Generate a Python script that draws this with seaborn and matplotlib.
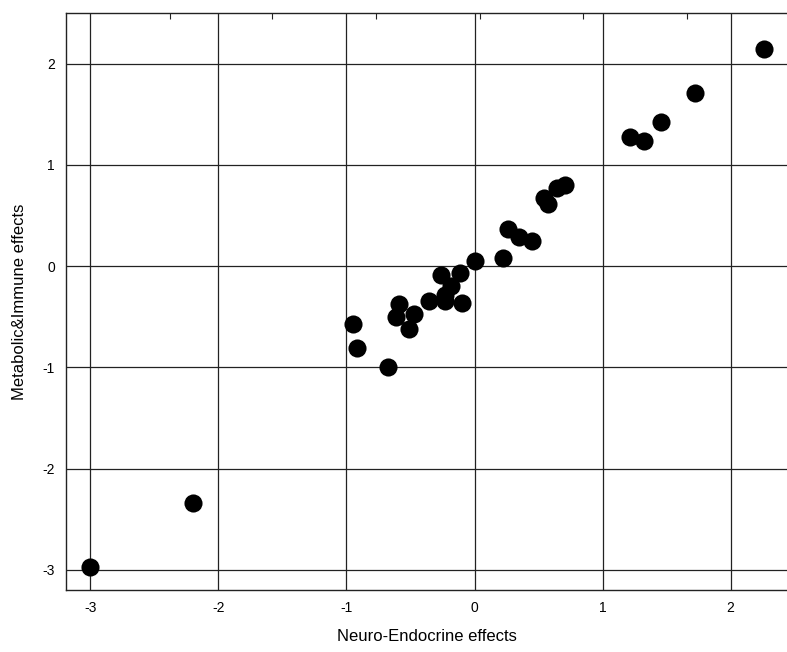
import matplotlib
matplotlib.use("Agg")
import matplotlib.pyplot as plt
import seaborn as sns
import pandas as pd

# -------------------------------------------------
# Data
# -------------------------------------------------
neuro = [-3.00, -2.195, -0.95, -0.919, -0.672, -0.586, -0.61, -0.47, -0.51,
         -0.352, -0.234, -0.099, -0.23, -0.18, -0.26, -0.117, 0.005, 0.221,
         0.26, 0.346, 0.448, 0.542, 0.573, 0.646, 0.709, 1.211, 1.323, 1.453,
         1.719, 2.26]
metab = [-2.975, -2.34, -0.57, -0.81, -0.997, -0.37, -0.50, -0.47, -0.62,
         -0.34, -0.34, -0.36, -0.29, -0.20, -0.086, -0.07, 0.055, 0.085,
         0.365, 0.286, 0.253, 0.671, 0.612, 0.77, 0.803, 1.28, 1.24, 1.424,
         1.714, 2.145]
tick_vals = [-3, -2, -1, 0, 1, 2]
top_ticks = [-2.38, -1.58, -0.77, 0.04, 0.85, 1.66]

df = pd.DataFrame({"Neuro-Endocrine effects": neuro,
                   "Metabolic&Immune effects": metab})

sns.set_style("white")
plt.rcParams["font.family"] = ["Liberation Sans", "DejaVu Sans"]
plt.rcParams["text.color"] = "black"
plt.rcParams["axes.labelcolor"] = "black"

fig = plt.figure(figsize=(7.87, 6.52), dpi=100)
ax = fig.add_axes([0.0839, 0.095, 0.9161, 0.885])

sns.scatterplot(data=df, x="Neuro-Endocrine effects", y="Metabolic&Immune effects",
                color="black", s=170, edgecolor="black", linewidth=0, ax=ax,
                zorder=3)

ax.set_xlim(-3.19, 2.44)
ax.set_ylim(-3.2, 2.5)
ax.set_xticks(tick_vals)
ax.set_yticks(tick_vals)
ax.set_xticklabels([str(t) for t in tick_vals])
ax.set_yticklabels([str(t) for t in tick_vals])
ax.grid(True, color="#222222", linewidth=0.9)
ax.tick_params(direction="in", length=4, labelsize=10, colors="black", pad=8)

for s in ["left", "bottom", "top"]:
    ax.spines[s].set_color("#222222")
    ax.spines[s].set_linewidth(1.0)
ax.spines["right"].set_visible(False)

top = ax.secondary_xaxis("top")
top.set_xticks(top_ticks)
top.set_xticklabels([])
top.tick_params(direction="in", length=4, colors="#222222")
top.spines["top"].set_visible(False)

ax.set_xlabel("Neuro-Endocrine effects", fontsize=12, labelpad=10)
ax.set_ylabel("Metabolic&Immune effects", fontsize=12, labelpad=11)

fig.savefig("out.png", dpi=100)
